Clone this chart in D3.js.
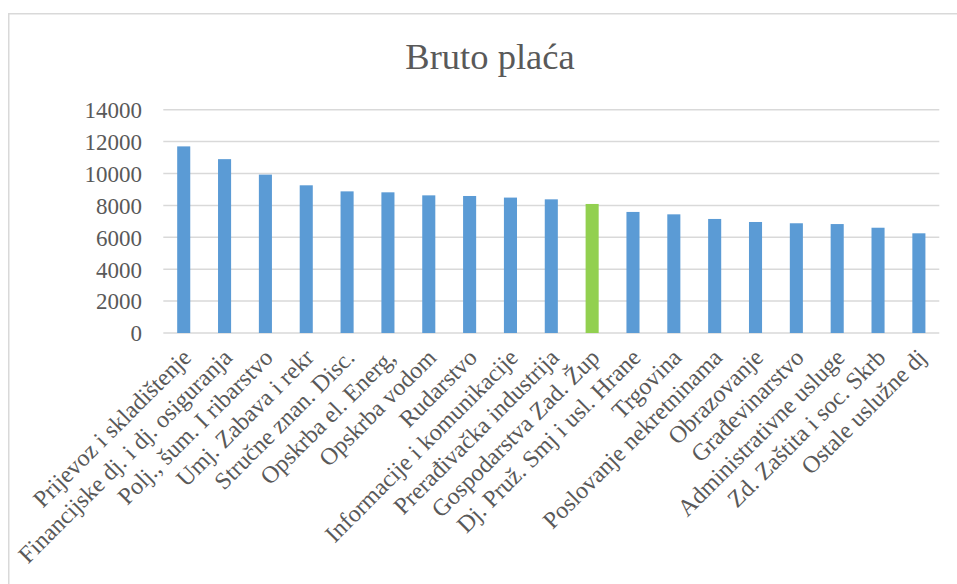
<!DOCTYPE html>
<html lang="hr">
<head>
<meta charset="utf-8">
<script src="https://d3js.org/d3.v7.min.js"></script>
<style>
  body { margin: 0; background: #fff; }
  svg text { font-family: "Liberation Serif", "Times New Roman", serif; fill: #595959; }
  .grid line { stroke: #d9d9d9; stroke-width: 1.5px; }
</style>
</head>
<body>
<svg width="957" height="584"></svg>
<script>
// podaci
var categories = ["Prijevoz i skladištenje", "Financijske dj. i dj. osiguranja", "Polj., šum. I ribarstvo",
  "Umj. Zabava i rekr", "Stručne znan. Disc.", "Opskrba el. Energ,", "Opskrba vodom", "Rudarstvo",
  "Informacije i komunikacije", "Prerađivačka industrija", "Gospodarstva Zad. Žup",
  "Dj. Pruž. Smj i usl. Hrane", "Trgovina", "Poslovanje nekretninama", "Obrazovanje",
  "Građevinarstvo", "Administrativne usluge", "Zd. Zaštita i soc. Skrb", "Ostale uslužne dj"];
var values = [11700, 10900, 9930, 9260, 8880, 8820, 8630, 8590, 8490, 8380, 8090,
  7590, 7440, 7150, 6960, 6880, 6830, 6600, 6250];
var highlight = "Gospodarstva Zad. Žup";
var yTicks = [0, 2000, 4000, 6000, 8000, 10000, 12000, 14000];
var title = "Bruto plaća";

var svg = d3.select("svg");

// okvir grafikona
svg.append("rect")
    .attr("x", 8.75).attr("y", 13.75)
    .attr("width", 1000).attr("height", 1000)
    .attr("fill", "none")
    .attr("stroke", "#d9d9d9")
    .attr("stroke-width", 1.5);

var x = d3.scaleBand()
    .domain(categories)
    .range([163.3, 939.3])
    .paddingInner(0.68)
    .paddingOuter(0.34);

var y = d3.scaleLinear()
    .domain([0, 14000])
    .range([333, 109.7]);

// mreža
svg.append("g")
    .attr("class", "grid")
  .selectAll("line")
  .data(yTicks)
  .enter().append("line")
    .attr("x1", 163.3).attr("x2", 939.3)
    .attr("y1", function(d) { return y(d); })
    .attr("y2", function(d) { return y(d); });

// y os
var yAxis = svg.append("g")
    .attr("transform", "translate(142,0)")
    .call(d3.axisLeft(y).tickValues(yTicks).tickSize(0).tickPadding(0).tickFormat(d3.format("d")));
yAxis.select(".domain").remove();
yAxis.selectAll("text")
    .style("font-size", "23px")
    .attr("dy", "0.34em");

// stupci
svg.append("g")
  .selectAll("rect")
  .data(values)
  .enter().append("rect")
    .attr("x", function(d, i) { return x(categories[i]); })
    .attr("width", x.bandwidth())
    .attr("y", function(d) { return y(d); })
    .attr("height", function(d) { return y(0) - y(d); })
    .attr("fill", function(d, i) { return categories[i] === highlight ? "#92d050" : "#5b9bd5"; });

// x os
var xAxis = svg.append("g")
    .attr("transform", "translate(0," + y(0) + ")")
    .call(d3.axisBottom(x).tickSize(0).tickPadding(0));
xAxis.select(".domain").remove();
xAxis.selectAll("text")
    .style("font-size", "24px")
    .attr("text-anchor", "end")
    .attr("dy", "0.35em")
    .attr("transform", "translate(3,20) rotate(-45)");

// naslov
svg.append("text")
    .attr("x", 490)
    .attr("y", 69)
    .attr("text-anchor", "middle")
    .style("font-size", "36.5px")
    .text(title);
</script>
</body>
</html>
